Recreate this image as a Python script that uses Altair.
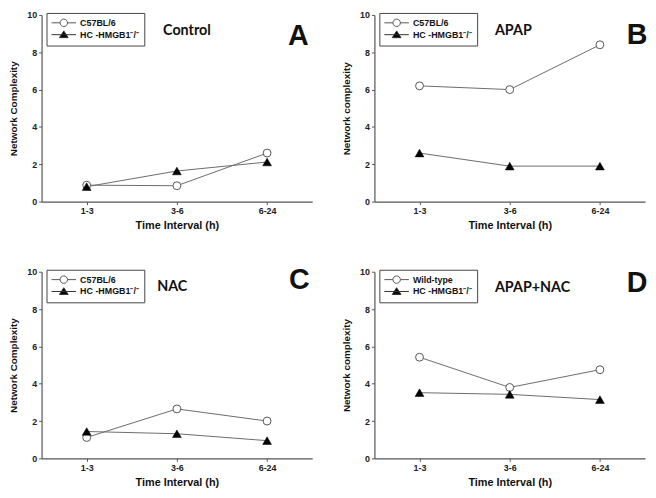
import altair as alt
import pandas as pd

# ---------------- data ----------------
intervals = ["1-3", "3-6", "6-24"]
panel_names = ["Control", "APAP", "NAC", "APAP+NAC"]
panel_letters = ["A", "B", "C", "D"]
y_titles = ["Network Complexity", "Network complexity", "Network Complexity", "Network complexity"]
wt_labels = ["C57BL/6", "C57BL/6", "C57BL/6", "Wild-type"]
ko_label = "HC -HMGB1\u207b/\u207b"

control_wt = [0.88, 0.85, 2.6]
control_ko = [0.8, 1.64, 2.12]
apap_wt = [6.2, 6.0, 8.4]
apap_ko = [2.6, 1.9, 1.9]
nac_wt = [1.12, 2.65, 2.0]
nac_ko = [1.44, 1.32, 0.95]
apapnac_wt = [5.42, 3.8, 4.75]
apapnac_ko = [3.52, 3.43, 3.15]

y_ticks = [0, 2, 4, 6, 8, 10]

# ---------------- layout / style ----------------
W, H = 274, 189
name_pos = [(123, 16), (122, 16), (117, 16), (122, 17)]
letter_pos = [(260, 21), (266, 20), (261, 8), (266, 12)]

CIRCLE_PATH = ("M-3.1,0L-0.94,0M0.94,0L3.1,0"
               "M0.94,0A0.94,0.94,0,1,1,-0.94,0A0.94,0.94,0,1,1,0.94,0Z")
TRI_PATH = "M-3.1,0L3.1,0M0,-0.95L1.1,0.75L-1.1,0.75Z"

LINE_COLOR = "#6b6b6b"
EDGE = "#555555"


def panel(i, wt, ko):
    df = pd.DataFrame({
        "interval": intervals * 2,
        "series": [wt_labels[i]] * 3 + [ko_label] * 3,
        "kind": ["wt"] * 3 + ["ko"] * 3,
        "value": wt + ko,
    })
    x = alt.X("interval:O", sort=intervals,
              scale=alt.Scale(type="point", padding=0.5),
              axis=alt.Axis(title="Time Interval (h)", labelAngle=0))
    y = alt.Y("value:Q", scale=alt.Scale(domain=[0, 10], nice=False),
              axis=alt.Axis(values=y_ticks, title=y_titles[i]))
    base = alt.Chart(df)
    lines = base.mark_line(color=LINE_COLOR, strokeWidth=1).encode(x=x, y=y, detail="kind:N")
    circles = base.transform_filter("datum.kind == 'wt'").mark_point(
        shape="circle", size=64, filled=True, fill="white", stroke=EDGE,
        strokeWidth=1, opacity=1).encode(x=x, y=y)
    tris = base.transform_filter("datum.kind == 'ko'").mark_point(
        shape="triangle-up", size=80, filled=True, fill="black", stroke="black",
        strokeWidth=0.5, opacity=1).encode(x=x, y=y)

    dom = [wt_labels[i], ko_label]
    leg = alt.Legend(orient="none", legendX=5, legendY=-2, title=None,
                     strokeColor="#444", fillColor="white", padding=5.5,
                     rowPadding=-1, symbolSize=64, symbolStrokeWidth=1,
                     symbolOffset=7.5, labelOffset=12,
                     labelFont="Liberation Sans", labelFontSize=9,
                     labelFontWeight="bold", labelColor="#111", cornerRadius=0)
    legend_layer = base.transform_filter("false").mark_point(
        filled=True, size=64, strokeWidth=1, opacity=1).encode(
        x=x, y=y,
        shape=alt.Shape("series:N", scale=alt.Scale(domain=dom, range=[CIRCLE_PATH, TRI_PATH]), legend=leg),
        fill=alt.Fill("series:N", scale=alt.Scale(domain=dom, range=["white", "black"]), legend=leg),
        stroke=alt.Stroke("series:N", scale=alt.Scale(domain=dom, range=[EDGE, "#333333"]), legend=leg),
    )

    info = pd.DataFrame({"name": [panel_names[i]], "letter": [panel_letters[i]]})
    name_t = alt.Chart(info).mark_text(
        align="left", baseline="middle", font="Lato", fontSize=14.5,
        fontWeight="bold", color="#111").encode(
        x=alt.value(name_pos[i][0]), y=alt.value(name_pos[i][1]), text="name:N")
    letter_t = alt.Chart(info).mark_text(
        align="center", baseline="middle", font="Liberation Sans", fontSize=29,
        fontWeight="bold", color="#111").encode(
        x=alt.value(letter_pos[i][0]), y=alt.value(letter_pos[i][1]), text="letter:N")

    return alt.layer(lines, circles, tris, legend_layer, name_t, letter_t).properties(width=W, height=H)


def indep(c):
    return c.resolve_scale(shape="independent", fill="independent", stroke="independent").resolve_legend(
        shape="independent", fill="independent", stroke="independent")


pA = panel(0, control_wt, control_ko)
pB = panel(1, apap_wt, apap_ko)
pC = panel(2, nac_wt, nac_ko)
pD = panel(3, apapnac_wt, apapnac_ko)

chart = indep(alt.vconcat(
    indep(alt.hconcat(pA, pB, spacing=29)),
    indep(alt.hconcat(pC, pD, spacing=29)),
    spacing=36,
)).properties(padding=0, background="white").configure_view(stroke=None).configure_axis(
    grid=False, domainColor=EDGE, domainWidth=1.2, tickColor=EDGE, tickSize=3,
    tickWidth=1, labelFont="Liberation Sans", labelFontWeight="bold",
    labelFontSize=9, labelColor="#222", labelPadding=2,
    titleFont="Liberation Sans", titleFontWeight="bold", titleColor="#111",
).configure_axisX(titleFontSize=11, titlePadding=4).configure_axisY(titleFontSize=10, titlePadding=8)

chart.save("out.html", embed_options={"renderer": "svg", "actions": False})
